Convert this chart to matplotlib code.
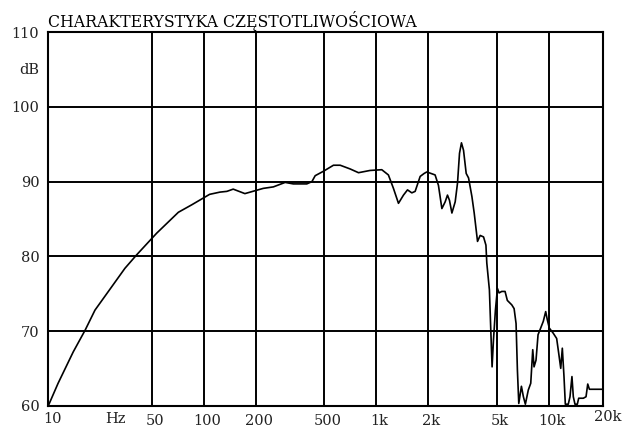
import matplotlib
matplotlib.use("Agg")
import matplotlib.pyplot as plt
import matplotlib.transforms as mtransforms

plt.rcParams['font.family'] = ['DejaVu Serif']

title = "CHARAKTERYSTYKA CZĘSTOTLIWOŚCIOWA"

freq = [12.5, 14.3, 17.5, 20.5, 23.4, 29.2, 34.9, 40.8, 53.3, 71.2, 85.1, 108, 124, 136, 148,
        173, 221, 253, 296, 330, 395, 423, 442, 494, 564, 617, 705, 788, 919, 1075, 1174,
        1256, 1343, 1436, 1515, 1605, 1678, 1794, 1892, 1961, 2190, 2290, 2397, 2505, 2583,
        2653, 2740, 2863, 2953, 3033, 3113, 3200, 3316, 3422, 3579, 3690, 3857, 3996, 4180,
        4315, 4366, 4520, 4605, 4685, 4771, 4898, 5031, 5142, 5329, 5570, 5741, 6093, 6285,
        6451, 6567, 6689, 6929, 7114, 7304, 7595, 7847, 8060, 8200, 8420, 8650, 8960, 9278,
        9580, 9790, 10050, 10600, 11090, 11400, 11710, 11960, 12230, 12450, 12950, 13250,
        13600, 13850, 14160, 14610, 14880, 15830, 16410, 16790, 17170, 20500]
level = [59.9, 63.0, 67.2, 70.1, 72.8, 75.9, 78.4, 80.2, 83.1, 85.9, 86.9, 88.3, 88.6, 88.7, 89.0,
         88.4, 89.1, 89.3, 89.9, 89.7, 89.7, 90.0, 90.8, 91.4, 92.2, 92.2, 91.7, 91.2, 91.5, 91.6, 90.9,
         89.1, 87.1, 88.2, 88.9, 88.5, 88.7, 90.7, 91.1, 91.3, 90.9, 89.5, 86.4, 87.3, 88.2,
         87.5, 85.8, 87.3, 89.8, 93.8, 95.2, 94.2, 91.1, 90.5, 88.0, 85.8, 82.0, 82.8, 82.6,
         81.5, 79.1, 75.5, 70.1, 65.2, 68.8, 72.8, 75.7, 75.1, 75.3, 75.3, 74.1, 73.5, 73.0,
         71.0, 64.8, 60.3, 62.6, 61.2, 60.2, 62.1, 63.0, 67.5, 65.2, 66.1, 69.5, 70.4, 71.3,
         72.6, 71.5, 70.4, 69.7, 69.0, 67.0, 65.0, 67.7, 63.9, 60.2, 60.2, 61.2,
         63.9, 61.2, 60.2, 60.2, 61.0, 61.0, 61.2, 62.9, 62.2, 62.2]

x_ticks = [50, 100, 200, 500, 1000, 2000, 5000, 10000]
x_tick_labels = ["50", "100", "200", "500", "1k", "2k", "5k", "10k"]
y_ticks = [60, 70, 80, 90, 100, 110]
y_tick_labels = ["60", "70", "80", "90", "100", "110"]

FS = 10.5

fig = plt.figure(figsize=(6.26, 4.29), dpi=100)
ax = fig.add_axes([47.7 / 626, 1 - 405.7 / 429, 555 / 626, 373.4 / 429])

ax.plot(freq, level, color="black", lw=1.2)
ax.set_xscale("log")
ax.set_xlim(12.45, 20500)
ax.set_ylim(60, 110)

ax.set_xticks(x_ticks)
ax.set_xticklabels(x_tick_labels)
ax.xaxis.set_minor_locator(matplotlib.ticker.NullLocator())
ax.set_yticks(y_ticks)
ax.set_yticklabels(y_tick_labels)
ax.tick_params(axis="both", length=0, labelsize=FS, colors="#222222")
ax.tick_params(axis="x", pad=6)
ax.tick_params(axis="y", pad=6)
for lbl in ax.get_xticklabels():
    lbl.set_transform(lbl.get_transform() + mtransforms.ScaledTranslation(3 / 100, 0, fig.dpi_scale_trans))

ax.grid(True, color="black", lw=1.4)
for s in ax.spines.values():
    s.set_linewidth(1.5)
    s.set_color("black")

# extra axis labels
trans_y = mtransforms.blended_transform_factory(ax.transAxes, ax.transData)
ax.text(-0.015, 105, "dB", transform=trans_y, ha="right", va="center", fontsize=FS, color="#222222")
ax.text(5 / 555, -0.036, "10", transform=ax.transAxes, ha="center", va="center", fontsize=FS, color="#222222")
ax.text(67.8 / 555, -0.036, "Hz", transform=ax.transAxes, ha="center", va="center", fontsize=FS, color="#222222")
ax.text(1.0095, -0.031, "20k", transform=ax.transAxes, ha="center", va="center", fontsize=FS, color="#222222")

ax.text(0.0, 1.015, title, transform=ax.transAxes, ha="left", va="baseline", fontsize=11.3, color="black")

fig.savefig("out.png", dpi=100, facecolor="white")
